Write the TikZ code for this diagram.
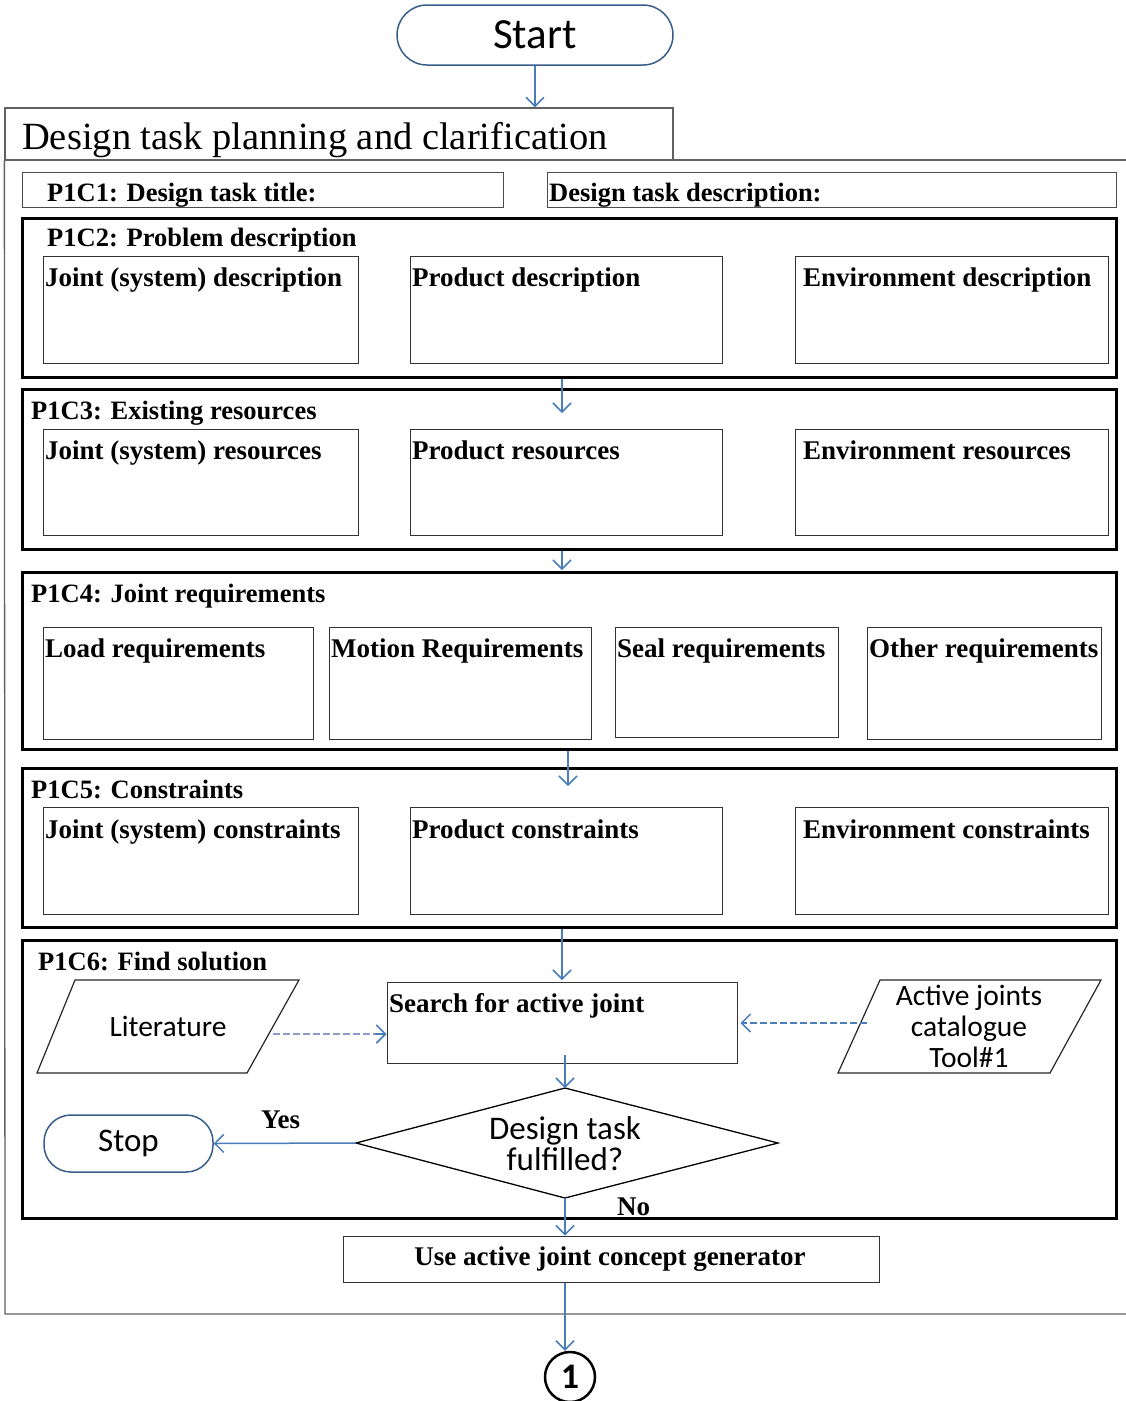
\documentclass[tikz,border=0pt]{standalone}
\usepackage{fontspec}
\setmainfont{Liberation Serif}
\newfontfamily\calib{Carlito}
\usetikzlibrary{arrows.meta,fit}
\definecolor{arrblue}{HTML}{4A7EBB}
\definecolor{edgeblue}{HTML}{385D8A}
\definecolor{dashpurple}{HTML}{8E9AC8}
\begin{document}
\begin{tikzpicture}[x=1pt,y=-1pt,
  bx/.style={draw=black!80, line width=1pt, inner sep=0pt},
  fr/.style={draw=black, line width=3pt, inner sep=0pt},
  outer/.style={draw=black!62, line width=1.3pt},
  arr/.style={draw=arrblue, line width=1.5pt, -{Straight Barb[length=9pt,width=18pt]}},
  darr/.style={draw=arrblue, line width=1.5pt, dashed, dash pattern=on 7pt off 3pt, -{Straight Barb[length=9pt,width=18pt]}},
  term/.style={draw=edgeblue, line width=1.5pt, inner sep=0pt},
  lbl/.style={font=\bfseries\fontsize{26.5}{31}\selectfont, inner sep=0pt, anchor=base west},
  sub/.style={font=\bfseries\fontsize{27}{32}\selectfont, inner sep=0pt, anchor=base west},
  sans/.style={font=\calib\fontsize{29.5}{35}\selectfont, inner sep=0pt, align=center},
  sansb/.style={font=\calib\fontsize{33}{40}\selectfont, inner sep=0pt, align=center}
]
\useasboundingbox (0,0) rectangle (1126,1401);

% Start
\node[term, rounded corners=30pt, fit={(397,5) (673,65)}] (start) {};
\node[font=\calib\fontsize{43}{50}\selectfont, inner sep=0pt] (starttxt) at (start.center) {Start};

% outer frame
\node[outer, inner sep=0pt, fit={(5,108) (673,160)}] (head) {};
\node[font=\fontsize{38.5}{44}\selectfont, inner sep=0pt, anchor=base west] (headtxt) at (22,149) {Design task planning and clarification};
\coordinate (ofA) at (673,160);
\coordinate (ofB) at (1126,160);
\coordinate (ofC) at (1126,1314);
\coordinate (ofD) at (5,1314);
\draw[outer] (ofA) -- (ofB);
\draw[outer] (head.south west) -- (ofD) -- (ofC);
\draw[arr] (start.south) -- (start.south |- head.north);

% P1C1
\node[bx, draw=black!70, fit={(22,172) (503,207)}] (p1) {};
\node[lbl] (p1t) at (47,201) {P1C1: Design task title:};
\node[bx, draw=black!70, fit={(547,172) (1116,207)}] (p1d) {};
\node[lbl] (p1dt) at (549,201) {Design task description:};

% P1C2
\node[fr, fit={(22,218) (1116,377)}] (f2) {};
\node[lbl] (f2t) at (47,246) {P1C2: Problem description};
\node[bx, fit={(43,256) (358,363)}] (b21) {};
\node[bx, fit={(410,256) (722,363)}] (b22) {};
\node[bx, fit={(795,256) (1108,363)}] (b23) {};
\node[sub] (b21t) at (45,286) {Joint (system) description};
\node[sub] (b22t) at (412,286) {Product description};
\node[sub] (b23t) at (803,286) {Environment description};

% P1C3
\node[fr, fit={(22,389) (1116,549)}] (f3) {};
\node[lbl] (f3t) at (31,419) {P1C3: Existing resources};
\node[bx, fit={(43,429) (358,535)}] (b31) {};
\node[bx, fit={(410,429) (722,535)}] (b32) {};
\node[bx, fit={(795,429) (1108,535)}] (b33) {};
\node[sub] (b31t) at (45,459) {Joint (system) resources};
\node[sub] (b32t) at (412,459) {Product resources};
\node[sub] (b33t) at (803,459) {Environment resources};
\coordinate (a3) at (562,413);
\draw[arr] (f2.south -| a3) -- (a3);

% P1C4
\node[fr, fit={(22,572) (1116,749)}] (f4) {};
\node[lbl] (f4t) at (31,602) {P1C4: Joint requirements};
\node[bx, fit={(43,627) (313,739)}] (b41) {};
\node[bx, fit={(329,627) (591,739)}] (b42) {};
\node[bx, fit={(615,627) (838,737)}] (b43) {};
\node[bx, fit={(867,627) (1101,739)}] (b44) {};
\node[sub] (b41t) at (45,657) {Load requirements};
\node[sub] (b42t) at (331,657) {Motion Requirements};
\node[sub] (b43t) at (617,657) {Seal requirements};
\node[sub] (b44t) at (869,657) {Other requirements};
\coordinate (a4) at (562,570);
\draw[arr] (f3.south -| a4) -- (a4);

% P1C5
\node[fr, fit={(22,768) (1116,927)}] (f5) {};
\node[lbl] (f5t) at (31,798) {P1C5: Constraints};
\node[bx, fit={(43,807) (358,914)}] (b51) {};
\node[bx, fit={(410,807) (722,914)}] (b52) {};
\node[bx, fit={(795,807) (1108,914)}] (b53) {};
\node[sub] (b51t) at (45,838) {Joint (system) constraints};
\node[sub] (b52t) at (412,838) {Product constraints};
\node[sub] (b53t) at (803,838) {Environment constraints};
\coordinate (a5) at (568,786);
\draw[arr] (f4.south -| a5) -- (a5);

% P1C6
\node[fr, fit={(22,940) (1116,1218)}] (f6) {};
\node[lbl] (f6t) at (38,970) {P1C6: Find solution};
\node[bx, fit={(387,982) (737,1063)}] (search) {};
\node[sub] (searcht) at (389,1012) {Search for active joint};
\coordinate (a6) at (562,980);
\draw[arr] (f5.south -| a6) -- (a6);

% Literature parallelogram
\coordinate (l1) at (75,980);
\coordinate (l2) at (299,980);
\coordinate (l3) at (247,1073);
\coordinate (l4) at (37,1073);
\draw[draw=black!85, line width=1.2pt] (l1) -- (l2) -- (l3) -- (l4) -- cycle;
\node[sans] (lit) at (168,1026) {Literature};
\coordinate (litout) at (273,1034);
\draw[darr, draw=dashpurple] (litout) -- (search.west |- litout);
\draw[arrblue, line width=1.5pt, -{Straight Barb[length=9pt,width=18pt]}] ([xshift=-12pt]search.west |- litout) -- (search.west |- litout);

% Active joints parallelogram
\coordinate (c1) at (880,980);
\coordinate (c2) at (1101,980);
\coordinate (c3) at (1050,1073);
\coordinate (c4) at (838,1073);
\draw[draw=black!85, line width=1.2pt] (c1) -- (c2) -- (c3) -- (c4) -- cycle;
\node[sans] (cat) at (969,1026) {Active joints\\[-4pt]catalogue\\[-4pt]Tool\#1};
\coordinate (catout) at (867,1023);
\draw[darr] (catout) -- ([xshift=3pt]search.east |- catout);

% Diamond
\coordinate (dl) at (356,1143);
\coordinate (dt) at (565,1088);
\coordinate (dr) at (778,1143);
\coordinate (db) at (565,1198);
\draw[draw=black, line width=1.3pt] (dl) -- (dt) -- (dr) -- (db) -- cycle;
\node[sansb] (dec) at (565,1144) {Design task\\[-9pt]fulfilled?};
\coordinate (sb) at (565,1055);
\draw[arr] (sb) -- (dt);

% Stop
\node[term, rounded corners=27pt, fit={(44,1115) (213,1172)}] (stop) {};
\node[sansb] (stopt) at (stop.center) {Stop};
\draw[arr] (dl) -- (stop.east);
\node[sub] (yes) at (261,1128) {Yes};

% Concept generator
\node[bx, fit={(343,1236) (879,1282)}] (gen) {};
\node[font=\bfseries\fontsize{27}{32}\selectfont, inner sep=0pt, anchor=base] (gent) at (610,1265) {Use active joint concept generator};
\draw[arr] (db) -- (db |- gen.north);
\node[sub] (no) at (617,1215) {No};

% Connector circle
\node[circle, draw=black, line width=2.5pt, minimum size=50pt, inner sep=0pt, font=\calib\bfseries\fontsize{36}{40}\selectfont] (one) at (570,1377) {1};
\draw[arr] (db |- gen.south) -- (db |- one.north);
\end{tikzpicture}
\end{document}
